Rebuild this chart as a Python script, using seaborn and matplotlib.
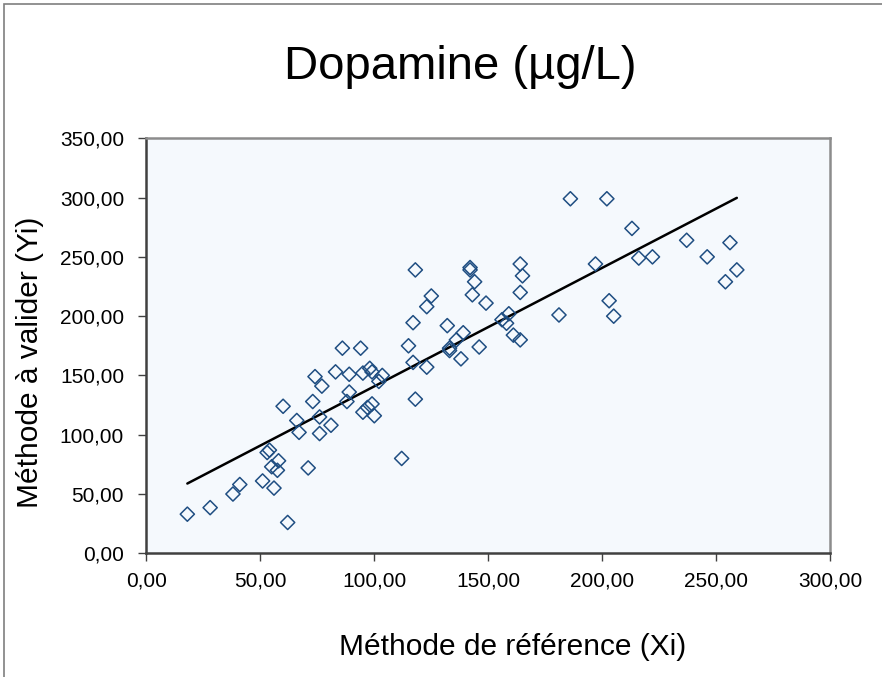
import numpy as np
import pandas as pd
import seaborn as sns
import matplotlib.pyplot as plt
from matplotlib.ticker import FuncFormatter, MultipleLocator
from matplotlib.patches import Rectangle

# values
x_ref = [18, 28, 38, 41, 51, 56, 62, 53, 54, 55, 58, 57.5, 60, 71, 66, 67, 73, 74, 77, 76,
         76, 81, 83, 86, 89, 89, 88, 94, 95, 98, 99, 95, 99, 97, 100, 102, 103.5, 112, 118, 117,
         115, 117, 118, 123, 125, 123, 132, 133, 133, 136, 139, 138, 142, 142, 144, 143, 146, 149,
         186, 202, 213, 237, 256, 216, 222, 246, 259, 254, 197, 164, 165, 164, 203, 205, 181, 156,
         159, 158, 161, 164]
y_val = [33, 38.5, 50, 58, 61, 55, 26, 85, 87, 73, 78, 70, 124, 72, 112, 102, 128, 149, 141, 115,
         101, 108, 153, 173, 151, 136, 128, 173, 152, 156, 153, 119, 126, 123, 116, 145, 150, 80, 130, 194.5,
         175, 161, 239, 208, 217, 157, 192, 171, 173, 180, 186, 164, 241, 239, 229, 218, 174, 211,
         299, 299, 274, 264, 262, 249, 250, 250, 239, 229, 244, 244, 234, 220, 213, 200, 201, 197,
         202, 194, 184, 180]

df = pd.DataFrame({"ref": x_ref, "val": y_val})

sns.set_theme(style="white")
plt.rcParams["font.family"] = ["Liberation Sans", "DejaVu Sans"]
plt.rcParams["text.color"] = "black"

fig = plt.figure(figsize=(8.82, 6.77), dpi=100)
fig.patches.append(Rectangle((4 / 882, -0.1), 1.2, 0.1 + 1 - 4 / 677, transform=fig.transFigure,
                             fill=False, edgecolor="#7f7f7f", lw=1.2))
ax = fig.add_axes([146.3 / 882, 1 - 553.3 / 677, 684 / 882, 415 / 677])
ax.set_facecolor("#F5F9FD")

sns.regplot(data=df, x="ref", y="val", ax=ax, ci=None, marker="D", color="#1F4E82",
            scatter_kws={"facecolors": "none", "s": 52, "linewidths": 1.1, "alpha": 1, "zorder": 3},
            line_kws={"color": "black", "lw": 1.8, "zorder": 2})

ax.set_xlim(0, 300)
ax.set_ylim(0, 350)
ax.xaxis.set_major_locator(MultipleLocator(50))
ax.yaxis.set_major_locator(MultipleLocator(50))
fmt = FuncFormatter(lambda v, p: f"{v:.2f}".replace(".", ","))
ax.xaxis.set_major_formatter(fmt)
ax.yaxis.set_major_formatter(fmt)
ax.tick_params(axis="both", direction="out", length=6, width=1, color="#404040",
               labelsize=15, labelcolor="black")
ax.tick_params(axis="x", pad=7, bottom=True)
ax.tick_params(axis="y", pad=10, left=True)

for side in ["top", "right"]:
    ax.spines[side].set_color("#8c8c8c")
    ax.spines[side].set_linewidth(1.8)
for side in ["left", "bottom"]:
    ax.spines[side].set_color("#404040")
    ax.spines[side].set_linewidth(1.8)

ax.set_xlabel("Méthode de référence (Xi)", fontsize=21.5, color="black")
ax.xaxis.set_label_coords((513 - 146.3) / 684, (553.3 - 647) / 415)
ax.xaxis.label.set_va("center")
ax.set_ylabel("Méthode à valider (Yi)", fontsize=21.5, color="black")
ax.yaxis.set_label_coords((30 - 146.3) / 684, (553.3 - 362) / 415)
ax.yaxis.label.set_va("center")

fig.text(460 / 882, 1 - 67 / 677, "Dopamine (µg/L)", fontsize=34, ha="center", va="center",
         color="black")

fig.savefig("out.png", dpi=100)
